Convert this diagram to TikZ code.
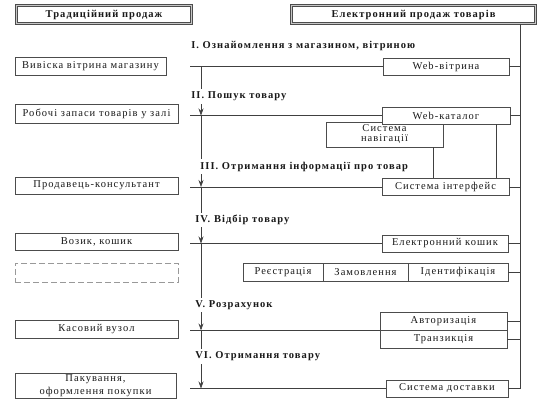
\documentclass[tikz,border=0pt]{standalone}
\usepackage{fontspec}
\setmainfont{Liberation Serif}[LetterSpace=10]
\usepackage{tikz}
\usetikzlibrary{arrows.meta}

\begin{document}
\begin{tikzpicture}[x=1pt,y=-1pt,line width=0.6pt,color=black!75,
  >={Stealth[length=7pt,width=5pt,inset=2.5pt]},
  box/.style={draw=black!70,fill=white,inner sep=0pt,line width=0.7pt,text=black!90,
    font=\fontsize{10.5}{10}\selectfont},
  headbox/.style={box,double=gray!45,double distance=1.6pt,line width=0.6pt,
    font=\bfseries\fontsize{10.5}{12}\selectfont},
  emptybox/.style={box,draw=gray!80,dash pattern=on 6pt off 3pt,line width=0.9pt},
  stage/.style={anchor=west,fill=white,inner xsep=1pt,inner ysep=2.5pt,text=black!90,
    font=\bfseries\fontsize{10.5}{12}\selectfont}]
\useasboundingbox (0,0) rectangle (541,402);

% traditional sale
\node[headbox,minimum width=175,minimum height=18] (trad) at (104,14.5) {Традиційний продаж};
\node[box,minimum width=151,minimum height=18] (vyviska) at (90.5,66) {Вивіска вітрина магазину};
\node[box,minimum width=163,minimum height=19] (zapasy) at (96.5,113.5) {Робочі запаси товарів у залі};
\node[box,minimum width=163,minimum height=17] (prodavets) at (96.5,185.5) {Продавець-консультант};
\node[box,minimum width=163,minimum height=17] (vozyk) at (96.5,241.5) {Возик, кошик};
\node[emptybox,minimum width=163,minimum height=19] (porozhnii) at (96.5,272.5) {};
\node[box,minimum width=163,minimum height=18] (kasa) at (96.5,329) {Касовий вузол};
\node[box,minimum width=161,minimum height=25,align=center,
  font=\fontsize{10.5}{12.5}\selectfont] (pakuvannia) at (95.5,385.5) {Пакування,\\оформлення покупки};

% electronic sale
\node[headbox,minimum width=244,minimum height=18] (elektr) at (413.5,14.5) {Електронний продаж товарів};
\node[box,minimum width=126,minimum height=17] (vitryna) at (446,66.5) {Web-вітрина};
\node[box,minimum width=117,minimum height=25,align=center] (navig) at (384.5,134.5) {Система\\навігації};
\node[box,minimum width=128,minimum height=17] (katalog) at (446,115.5) {Web-каталог};
\node[box,minimum width=127,minimum height=17] (interf) at (445.5,187) {Система інтерфейс};
\node[box,minimum width=126,minimum height=17] (koshyk) at (445,243.5) {Електронний кошик};
\node[box,minimum width=80,minimum height=18] (reiestr) at (283,272) {Реєстрація};
\node[box,minimum width=85,minimum height=18] (zamovl) at (365.5,272) {Замовлення};
\node[box,minimum width=100,minimum height=18] (ident) at (458,272) {Ідентифікація};
\node[box,minimum width=127,minimum height=18] (avtor) at (443.5,321) {Авторизація};
\node[box,minimum width=127,minimum height=18] (tranz) at (443.5,339) {Транзикція};
\node[box,minimum width=122,minimum height=17] (dostavka) at (447,388.5) {Система доставки};

\coordinate (lstart) at (190,0);
\coordinate (spine) at (201,0);
\coordinate (trunk) at (520,0);
\coordinate (navlink) at (433,0);
\coordinate (katlink) at (496,0);

% stage lines
\draw (lstart |- vitryna.west) -- (vitryna.west);
\draw (lstart |- katalog.west) -- (katalog.west);
\draw (lstart |- interf.west) -- (interf.west);
\draw (lstart |- koshyk.west) -- (koshyk.west);
\draw (lstart |- avtor.south west) -- (avtor.south west);
\draw (lstart |- dostavka.west) -- (dostavka.west);

\draw[->] (spine |- vitryna.west) -- (spine |- katalog.west);
\draw[->] (spine |- katalog.west) -- (spine |- interf.west);
\draw[->] (spine |- interf.west) -- (spine |- koshyk.west);
\draw[->] (spine |- koshyk.west) -- (spine |- avtor.south west);
\draw[->] (spine |- avtor.south west) -- (spine |- dostavka.west);

% right side links
\draw (elektr.south -| trunk) -- (trunk |- dostavka.east);
\foreach \n in {vitryna,katalog,interf,koshyk,ident,avtor,tranz,dostavka}
  \draw (\n.east) -- (\n.east -| trunk);
\draw (navlink |- navig.south) -- (navlink |- interf.north);
\draw (katlink |- katalog.south) -- (katlink |- interf.north);

% stages
\node[stage] (st1) at (190,46) {I. Ознайомлення з магазином, вітриною};
\node[stage] (st2) at (190,96.5) {II. Пошук товару};
\node[stage] (st3) at (199,166.5) {III. Отримання інформації про товар};
\node[stage] (st4) at (194,220) {IV. Відбір товару};
\node[stage] (st5) at (194,305) {V. Розрахунок};
\node[stage] (st6) at (194,356.5) {VI. Отримання товару};
\end{tikzpicture}
\end{document}
